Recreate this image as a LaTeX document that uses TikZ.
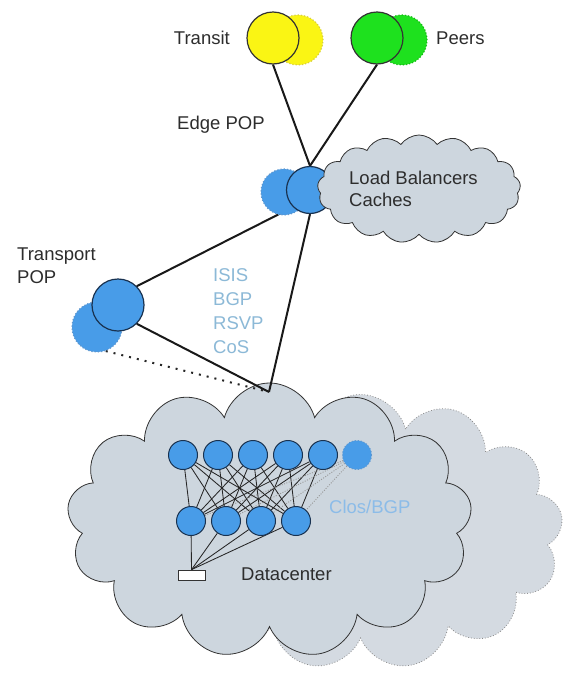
\documentclass[tikz,border=0pt]{standalone}
\usepackage{fontspec}
\setmainfont{Liberation Sans}
\usetikzlibrary{shapes.symbols}
\definecolor{cloudfill}{RGB}{205,214,222}
\definecolor{cloudfilltwo}{RGB}{212,218,225}
\definecolor{cloudghostline}{RGB}{140,140,140}
\definecolor{bluefill}{RGB}{72,156,232}
\definecolor{blueline}{RGB}{25,50,80}
\definecolor{blueghost}{RGB}{95,150,205}
\definecolor{yel}{RGB}{250,245,20}
\definecolor{yelghost}{RGB}{215,205,60}
\definecolor{grn}{RGB}{30,225,30}
\definecolor{grnghost}{RGB}{20,185,20}
\definecolor{proto}{RGB}{140,185,215}
\definecolor{clos}{RGB}{140,188,232}
\definecolor{txt}{RGB}{45,45,45}
\pgfdeclarelayer{back}
\pgfdeclarelayer{bg}
\pgfdeclarelayer{front}
\pgfsetlayers{back,bg,main,front}
\begin{document}
\begin{tikzpicture}[x=1pt,y=-1pt,
  lbl/.style={font=\fontsize{18.5}{23}\selectfont, text=txt, inner sep=0, align=left},
  plbl/.style={lbl, text=proto, font=\fontsize{18.5}{24}\selectfont},
  link/.style={line width=2pt, black!90},
  dotlink/.style={line width=2pt, black!85, dash pattern=on 2pt off 6pt},
  fab/.style={line width=0.85pt, black!85},
  fabghost/.style={line width=0.9pt, gray!80, dash pattern=on 1pt off 1.5pt},
  dcnode/.style={circle, draw=blueline, line width=1pt, fill=bluefill, minimum size=29pt, inner sep=0},
  dcghostnode/.style={circle, draw=blueghost, dotted, line width=1pt, fill=bluefill, minimum size=29pt, inner sep=0},
  bigc/.style={circle, line width=1.2pt, minimum size=52pt, inner sep=0},
  bigghost/.style={circle, line width=1.2pt, dotted, minimum size=50pt, inner sep=0},
  cloudbox/.style={cloud, cloud ignores aspect, draw=black!80, line width=0.8pt, fill=cloudfill, inner sep=0}
]
\useasboundingbox (0,0) rectangle (568,675);

% Datacenter clouds
\begin{pgfonlayer}{back}
\fill[white] (0,0) rectangle (568,675);
\node[cloudbox, cloud puffs=13, minimum width=405pt, minimum height=275pt,
      draw=cloudghostline, dotted, fill=cloudfilltwo] (dcghost) at (360.5,532) {};
\node[cloudbox, cloud puffs=13, minimum width=405pt, minimum height=275pt] (dccloud) at (269.5,520.5) {};
\end{pgfonlayer}

% Top providers
\node[bigghost, draw=yelghost, fill=yel] (trs) at (298,40) {};
\node[bigc, draw=black!80, fill=yel] (tr) at (273,38) {};
\node[bigghost, draw=grnghost, fill=grn] (pes) at (402,40) {};
\node[bigc, draw=black!80, fill=grn] (pe) at (377,38) {};
\node[lbl, anchor=east] (trl) at (230,38) {Transit};
\node[lbl, anchor=west] (pel) at (436,38) {Peers};

% Edge POP
\node[bigghost, draw=blueghost, fill=bluefill, minimum size=46pt] (edges) at (284,192) {};
\node[bigc, draw=blueline, fill=bluefill, minimum size=47pt] (edge) at (310,190) {};
\node[lbl, anchor=west] (edgel) at (177,125) {Edge POP};

% Load balancer cloud
\begin{pgfonlayer}{front}
\node[cloudbox, cloud puffs=17, cloud puff arc=110, minimum width=203pt, minimum height=108pt] (lb) at (419,189) {};
\node[lbl, anchor=west, font=\fontsize{18.5}{22}\selectfont] (lbl) at (349,189) {Load Balancers\\Caches};
\end{pgfonlayer}

% Transport POP
\node[bigghost, draw=blueghost, fill=bluefill] (tps) at (97,327) {};
\node[bigc, draw=blueline, fill=bluefill] (tp) at (118,305) {};
\node[lbl, anchor=west] (tpl) at (17,266) {Transport\\POP};

\node[plbl, anchor=west] (protol) at (213,311) {ISIS\\BGP\\RSVP\\CoS};

\coordinate (J) at (269,392);

\begin{pgfonlayer}{bg}
\draw[link] (tr.south) -- (edge.north);
\draw[link] (pe.south) -- (edge.north);
\draw[link] (edge.225) -- (tp.45);
\draw[link] (edge.south) -- (J);
\draw[link] (tp.-45) -- (J);
\draw[dotlink] (tps.-70) -- (J);
\end{pgfonlayer}

% Clos fabric
\foreach \i/\x in {1/183,2/218,3/253,4/288,5/323}
  \node[dcnode] (t\i) at (\x,455) {};
\node[dcghostnode] (t6) at (357,455) {};
\foreach \j/\x in {1/191,2/226,3/261,4/296}
  \node[dcnode] (b\j) at (\x,521) {};
\node[draw=black!80, fill=white, line width=0.7pt, minimum width=27pt, minimum height=10pt, inner sep=0] (box) at (191.5,575) {};

\begin{pgfonlayer}{bg}
\foreach \i in {1,...,5}
  \foreach \j in {1,...,4}
    \draw[fab] (t\i) -- (b\j);
\foreach \j in {1,...,4}
  \draw[fabghost] (t6) -- (b\j);
\foreach \j in {1,...,4}
  \draw[fab] (box.north) -- (b\j);
\end{pgfonlayer}

\node[lbl, anchor=west] (dcl) at (241,574) {Datacenter};
\node[lbl, anchor=west, text=clos] (closl) at (329,507) {Clos/BGP};
\end{tikzpicture}
\end{document}
